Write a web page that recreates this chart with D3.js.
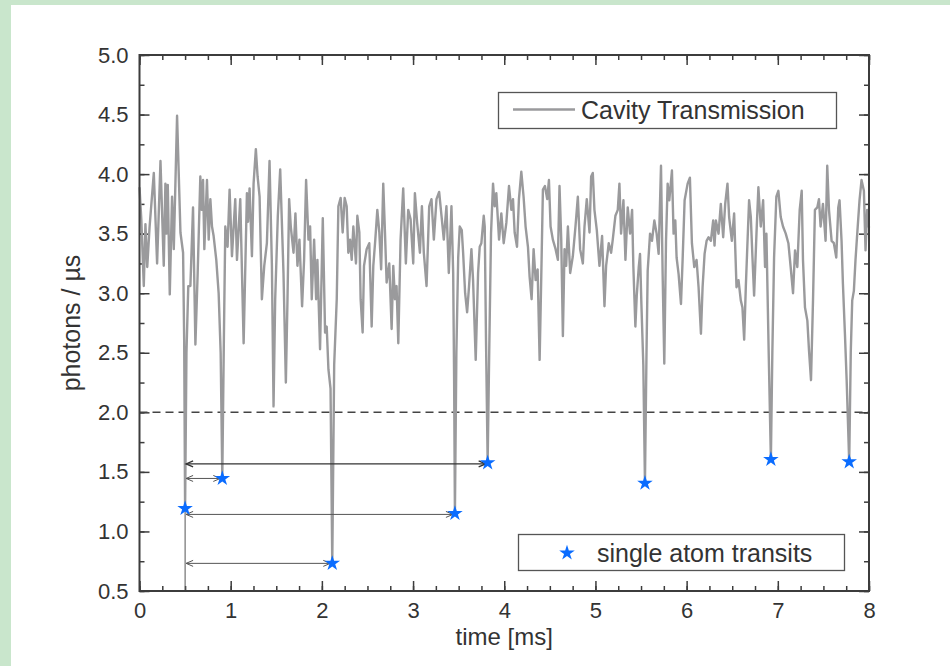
<!DOCTYPE html>
<html>
<head>
<meta charset="utf-8">
<script src="https://cdn.jsdelivr.net/npm/d3@7"></script>
<style>
  body { margin: 0; background: #fff; }
  svg { display: block; }
</style>
</head>
<body>
<svg id="chart" width="950" height="666"></svg>
<script>
// cavity transmission trace, [time ms, photons/us]
var trace = [
  [0.00, 3.89], [0.02, 3.62], [0.047, 3.06], [0.065, 3.58], [0.085, 3.22], [0.11, 3.55],
  [0.157, 4.01], [0.193, 3.25], [0.23, 4.11], [0.266, 3.23], [0.284, 3.92], [0.297, 3.5],
  [0.31, 3.91], [0.332, 2.99], [0.357, 3.81], [0.376, 3.37], [0.412, 4.49], [0.449, 3.51],
  [0.478, 3.34], [0.49, 2.6], [0.5, 1.19], [0.515, 2.5], [0.535, 3.06], [0.558, 3.06],
  [0.587, 3.72], [0.613, 2.57], [0.638, 3.17], [0.667, 3.98], [0.682, 3.7], [0.697, 3.95],
  [0.711, 3.37], [0.74, 3.95], [0.759, 3.45], [0.777, 3.79], [0.795, 3.56], [0.813, 3.48],
  [0.842, 3.28], [0.868, 3.0], [0.89, 2.5], [0.908, 1.45], [0.925, 2.6], [0.941, 3.56],
  [0.966, 3.39], [0.988, 3.87], [1.014, 3.31], [1.05, 3.79], [1.069, 3.28], [1.105, 3.79],
  [1.142, 2.58], [1.178, 3.84], [1.19, 3.6], [1.207, 3.88], [1.233, 3.31], [1.251, 3.92],
  [1.276, 4.21], [1.295, 3.98], [1.317, 3.81], [1.342, 2.95], [1.368, 3.23], [1.397, 3.42],
  [1.426, 4.11], [1.452, 3.23], [1.47, 2.05], [1.488, 2.95], [1.517, 3.65], [1.543, 4.04],
  [1.579, 3.17], [1.605, 2.25], [1.623, 2.95], [1.641, 3.79], [1.659, 3.56], [1.689, 3.34],
  [1.71, 3.67], [1.732, 3.23], [1.754, 3.45], [1.783, 2.89], [1.805, 3.28], [1.827, 3.95],
  [1.853, 3.45], [1.871, 3.56], [1.889, 2.95], [1.915, 3.45], [1.937, 2.95], [1.951, 3.28],
  [1.98, 2.53], [2.01, 3.63], [2.035, 2.67], [2.053, 2.72], [2.072, 2.36], [2.095, 2.2],
  [2.114, 0.73], [2.135, 2.4], [2.163, 2.95], [2.181, 3.73], [2.206, 3.8], [2.228, 3.51],
  [2.25, 3.8], [2.272, 3.73], [2.29, 3.34], [2.309, 3.45], [2.327, 3.28], [2.345, 3.56],
  [2.374, 3.25], [2.389, 3.65], [2.411, 3.51], [2.425, 2.95], [2.447, 2.67], [2.462, 3.23],
  [2.491, 3.37], [2.52, 3.42], [2.546, 2.72], [2.564, 3.23], [2.586, 3.45], [2.608, 3.7],
  [2.63, 3.51], [2.65, 3.2], [2.673, 3.92], [2.692, 3.51], [2.71, 3.09], [2.739, 3.25],
  [2.765, 2.70], [2.783, 3.23], [2.801, 2.95], [2.819, 3.06], [2.838, 2.58], [2.863, 3.45],
  [2.892, 3.88], [2.921, 3.25], [2.947, 3.70], [2.973, 3.62], [3.002, 3.25], [3.02, 3.84],
  [3.045, 3.59], [3.075, 3.34], [3.097, 3.73], [3.118, 3.34], [3.148, 3.06], [3.177, 3.73],
  [3.202, 3.79], [3.228, 3.45], [3.257, 3.79], [3.286, 3.85], [3.312, 3.65], [3.337, 3.45],
  [3.366, 3.73], [3.392, 3.17], [3.421, 3.73], [3.44, 3.17], [3.45, 2.3], [3.459, 1.15],
  [3.475, 2.5], [3.495, 3.3], [3.512, 3.56], [3.534, 3.53], [3.549, 3.34], [3.571, 3.0],
  [3.593, 2.84], [3.614, 3.06], [3.64, 3.37], [3.658, 3.11], [3.687, 2.44], [3.713, 3.17],
  [3.731, 3.39], [3.749, 3.42], [3.775, 3.65], [3.786, 3.56], [3.80, 2.6], [3.818, 1.58],
  [3.835, 2.5], [3.855, 3.5], [3.877, 3.92], [3.895, 3.73], [3.913, 3.84], [3.943, 3.45],
  [3.968, 3.67], [3.994, 3.42], [4.023, 3.59], [4.052, 3.90], [4.078, 3.70], [4.096, 3.79],
  [4.114, 3.51], [4.14, 3.39], [4.161, 3.79], [4.187, 4.02], [4.212, 3.81], [4.234, 3.56],
  [4.26, 3.39], [4.278, 3.14], [4.30, 2.95], [4.322, 3.37], [4.344, 3.11], [4.366, 3.20],
  [4.388, 2.44], [4.406, 3.14], [4.424, 3.87], [4.446, 3.90], [4.471, 3.79], [4.49, 3.95],
  [4.508, 3.56], [4.533, 3.45], [4.563, 3.37], [4.588, 3.28], [4.606, 3.90], [4.625, 3.45],
  [4.643, 2.64], [4.661, 3.37], [4.679, 3.23], [4.698, 3.56], [4.723, 3.17], [4.752, 3.31],
  [4.781, 3.56], [4.807, 3.81], [4.832, 3.37], [4.862, 3.25], [4.88, 3.56], [4.905, 3.79],
  [4.935, 3.51], [4.953, 3.98], [4.971, 4.01], [4.989, 3.70], [5.015, 3.53], [5.044, 3.23],
  [5.073, 3.48], [5.099, 2.89], [5.117, 3.23], [5.146, 3.42], [5.172, 3.34], [5.19, 3.45],
  [5.219, 3.65], [5.245, 3.7], [5.263, 3.92], [5.281, 3.50], [5.307, 3.78], [5.329, 3.28],
  [5.354, 3.72], [5.38, 3.50], [5.402, 3.70], [5.416, 3.22], [5.438, 2.72], [5.453, 2.98],
  [5.475, 3.22], [5.489, 3.33], [5.504, 2.91], [5.525, 2.4], [5.543, 1.405], [5.56, 2.5],
  [5.573, 3.19], [5.599, 3.50], [5.62, 3.44], [5.646, 3.61], [5.671, 3.50], [5.693, 3.33],
  [5.719, 4.07], [5.737, 3.16], [5.755, 2.41], [5.774, 3.44], [5.792, 3.92], [5.81, 3.78],
  [5.839, 4.03], [5.857, 3.50], [5.876, 3.61], [5.89, 3.30], [5.912, 3.16], [5.938, 2.91],
  [5.956, 3.28], [5.978, 3.78], [6.011, 3.92], [6.036, 3.97], [6.058, 3.42], [6.084, 3.22],
  [6.109, 3.28], [6.131, 3.05], [6.157, 2.66], [6.175, 3.05], [6.197, 3.33], [6.219, 3.44],
  [6.24, 3.47], [6.266, 3.44], [6.291, 3.61], [6.306, 3.4], [6.321, 3.61], [6.35, 3.50],
  [6.375, 3.75], [6.401, 3.47], [6.423, 3.75], [6.448, 3.92], [6.466, 3.64], [6.496, 3.44],
  [6.521, 3.67], [6.547, 3.05], [6.569, 3.11], [6.594, 2.94], [6.612, 2.88], [6.631, 2.61],
  [6.649, 3.05], [6.667, 3.42], [6.685, 3.78], [6.704, 3.64], [6.722, 3.30], [6.74, 2.98],
  [6.766, 3.50], [6.787, 3.89], [6.813, 3.56], [6.839, 3.78], [6.86, 3.22], [6.875, 3.50],
  [6.90, 2.5], [6.924, 1.60], [6.94, 2.5], [6.959, 3.30], [6.984, 3.81], [7.006, 3.86],
  [7.032, 3.64], [7.057, 3.56], [7.087, 3.50], [7.116, 3.42], [7.141, 3.22], [7.167, 3.00],
  [7.189, 3.36], [7.214, 3.22], [7.24, 3.70], [7.262, 3.86], [7.276, 3.28], [7.298, 2.88],
  [7.324, 2.77], [7.342, 2.52], [7.364, 2.27], [7.386, 2.94], [7.407, 3.70], [7.433, 3.72],
  [7.451, 3.79], [7.469, 3.56], [7.495, 3.75], [7.524, 3.44], [7.542, 4.07], [7.561, 3.70],
  [7.59, 3.44], [7.615, 3.42], [7.641, 3.30], [7.663, 3.72], [7.677, 3.78], [7.699, 3.44],
  [7.714, 3.08], [7.736, 2.66], [7.755, 2.27], [7.783, 1.58], [7.80, 2.5], [7.816, 2.94],
  [7.834, 3.02], [7.852, 3.28], [7.871, 3.50], [7.896, 3.78], [7.918, 3.95], [7.944, 3.86],
  [7.962, 3.36], [7.98, 3.70], [8.0, 3.55]
];

// single atom transits
var transitTime = [0.5, 0.908, 2.114, 3.459, 3.818, 5.543, 6.924, 7.783];
var transitRate = [1.193, 1.445, 0.732, 1.151, 1.576, 1.405, 1.604, 1.584];

// interval arrows from the first transit (start time) to later ones
var arrowStart = 0.5;
var arrowEnd = [3.818, 0.908, 3.459, 2.114];
var arrowLevel = [1.567, 1.445, 1.143, 0.732];

var threshold = 2.0;
var xTicks = [0, 1, 2, 3, 4, 5, 6, 7, 8];
var yTicks = [0.5, 1.0, 1.5, 2.0, 2.5, 3.0, 3.5, 4.0, 4.5, 5.0];
var xMinor = d3.range(0, 8.001, 0.25);
var yMinor = d3.range(0.5, 5.001, 0.25);

var font = "'Liberation Sans', Arial, Helvetica, sans-serif";
var textColor = "#333";
var axisColor = "#3c3c3c";

var svg = d3.select("#chart");

// page background: green strip at top and left
svg.append("rect").attr("width", 950).attr("height", 666).attr("fill", "#c9e6cc");
svg.append("rect").attr("x", 11).attr("y", 5).attr("width", 939).attr("height", 661).attr("fill", "#fff");

var dims = { left: 139.5, right: 869, top: 55, bottom: 591 };

var xScale = d3.scaleLinear().domain([0, 8]).range([dims.left, dims.right]);
var yScale = d3.scaleLinear().domain([0.5, 5]).range([dims.bottom, dims.top]);

// axes, ticks pointing inward on all four sides
function styleAxis(g) {
  g.select(".domain").remove();
  g.selectAll(".tick line").attr("stroke", axisColor).attr("stroke-width", 1.5);
  g.selectAll("text").attr("fill", textColor).style("font-family", font).style("font-size", "22px");
}

svg.append("g")
  .attr("transform", "translate(0," + dims.bottom + ")")
  .call(d3.axisBottom(xScale).tickValues(xMinor).tickSize(-5).tickFormat(""))
  .call(styleAxis);
svg.append("g")
  .attr("transform", "translate(0," + dims.bottom + ")")
  .call(d3.axisBottom(xScale).tickValues(xTicks).tickSize(-10).tickPadding(11).tickFormat(d3.format("d")))
  .call(styleAxis);

svg.append("g")
  .attr("transform", "translate(0," + dims.top + ")")
  .call(d3.axisTop(xScale).tickValues(xMinor).tickSize(-5).tickFormat(""))
  .call(styleAxis);
svg.append("g")
  .attr("transform", "translate(0," + dims.top + ")")
  .call(d3.axisTop(xScale).tickValues(xTicks).tickSize(-10).tickFormat(""))
  .call(styleAxis);

svg.append("g")
  .attr("transform", "translate(" + dims.left + ",0)")
  .call(d3.axisLeft(yScale).tickValues(yMinor).tickSize(-5).tickFormat(""))
  .call(styleAxis);
svg.append("g")
  .attr("transform", "translate(" + dims.left + ",0)")
  .call(d3.axisLeft(yScale).tickValues(yTicks).tickSize(-10).tickPadding(11).tickFormat(d3.format(".1f")))
  .call(styleAxis);

svg.append("g")
  .attr("transform", "translate(" + dims.right + ",0)")
  .call(d3.axisRight(yScale).tickValues(yMinor).tickSize(-5).tickFormat(""))
  .call(styleAxis);
svg.append("g")
  .attr("transform", "translate(" + dims.right + ",0)")
  .call(d3.axisRight(yScale).tickValues(yTicks).tickSize(-10).tickFormat(""))
  .call(styleAxis);

// threshold line
svg.append("line")
  .attr("x1", xScale(0)).attr("x2", xScale(8))
  .attr("y1", yScale(threshold)).attr("y2", yScale(threshold))
  .attr("stroke", "#444").attr("stroke-width", 1.5)
  .attr("stroke-dasharray", "8,5");

// the trace
var line = d3.line()
  .x(function (d) { return xScale(d[0]); })
  .y(function (d) { return yScale(d[1]); });

svg.append("path")
  .datum(trace)
  .attr("d", line)
  .attr("fill", "none")
  .attr("stroke", "#9a9a9c")
  .attr("stroke-width", 2.4)
  .attr("stroke-linejoin", "round");

// vertical marker below the first transit
svg.append("line")
  .attr("x1", xScale(arrowStart)).attr("x2", xScale(arrowStart))
  .attr("y1", yScale(transitRate[0])).attr("y2", yScale(0.5))
  .attr("stroke", "#555").attr("stroke-width", 1);

// double headed arrows
arrowEnd.forEach(function (end, i) {
  var x0 = xScale(arrowStart) + 1;
  var x1 = xScale(end) - 2;
  var y = yScale(arrowLevel[i]);
  var col = i === 0 ? "#333" : "#555";
  var g = svg.append("g").attr("stroke", col).attr("fill", "none").attr("stroke-width", i === 0 ? 1.3 : 1);
  g.append("line").attr("x1", x0).attr("x2", x1).attr("y1", y).attr("y2", y);
  g.append("path").attr("d", "M" + (x0 + 7) + "," + (y - 3) + "L" + x0 + "," + y + "L" + (x0 + 7) + "," + (y + 3));
  g.append("path").attr("d", "M" + (x1 - 7) + "," + (y - 3) + "L" + x1 + "," + y + "L" + (x1 - 7) + "," + (y + 3));
});

// transit stars
var star = d3.symbol().type(d3.symbolStar).size(75);
svg.selectAll(".transit")
  .data(transitTime)
  .enter()
  .append("path")
  .attr("class", "transit")
  .attr("d", star)
  .attr("transform", function (d, i) {
    return "translate(" + xScale(d) + "," + yScale(transitRate[i]) + ")";
  })
  .attr("fill", "#0a6cff");

// frame
svg.append("rect")
  .attr("x", dims.left).attr("y", dims.top)
  .attr("width", dims.right - dims.left).attr("height", dims.bottom - dims.top)
  .attr("fill", "none").attr("stroke", axisColor).attr("stroke-width", 2);

// axis titles
svg.append("text")
  .attr("x", (dims.left + dims.right) / 2)
  .attr("y", 645)
  .attr("text-anchor", "middle")
  .attr("fill", textColor)
  .style("font-family", font).style("font-size", "24px")
  .text("time [ms]");

svg.append("text")
  .attr("transform", "translate(80," + (dims.top + dims.bottom) / 2 + ") rotate(-90)")
  .attr("text-anchor", "middle")
  .attr("fill", textColor)
  .style("font-family", font).style("font-size", "25px")
  .text("photons / µs");

// legend: trace
var leg1 = svg.append("g");
leg1.append("rect")
  .attr("x", 498.5).attr("y", 92.5).attr("width", 338).attr("height", 36)
  .attr("fill", "#fff").attr("stroke", "#555").attr("stroke-width", 1.3);
leg1.append("line")
  .attr("x1", 513).attr("x2", 575).attr("y1", 109.5).attr("y2", 109.5)
  .attr("stroke", "#9a9a9c").attr("stroke-width", 2.5);
leg1.append("text")
  .attr("x", 581).attr("y", 119)
  .attr("fill", textColor)
  .style("font-family", font).style("font-size", "25px")
  .text("Cavity Transmission");

// legend: transits
var leg2 = svg.append("g");
leg2.append("rect")
  .attr("x", 518.5).attr("y", 534.5).attr("width", 326).attr("height", 36)
  .attr("fill", "#fff").attr("stroke", "#555").attr("stroke-width", 1.3);
leg2.append("path")
  .attr("d", star)
  .attr("transform", "translate(567,553)")
  .attr("fill", "#0a6cff");
leg2.append("text")
  .attr("x", 597).attr("y", 562)
  .attr("fill", textColor)
  .style("font-family", font).style("font-size", "25px")
  .text("single atom transits");
</script>
</body>
</html>
